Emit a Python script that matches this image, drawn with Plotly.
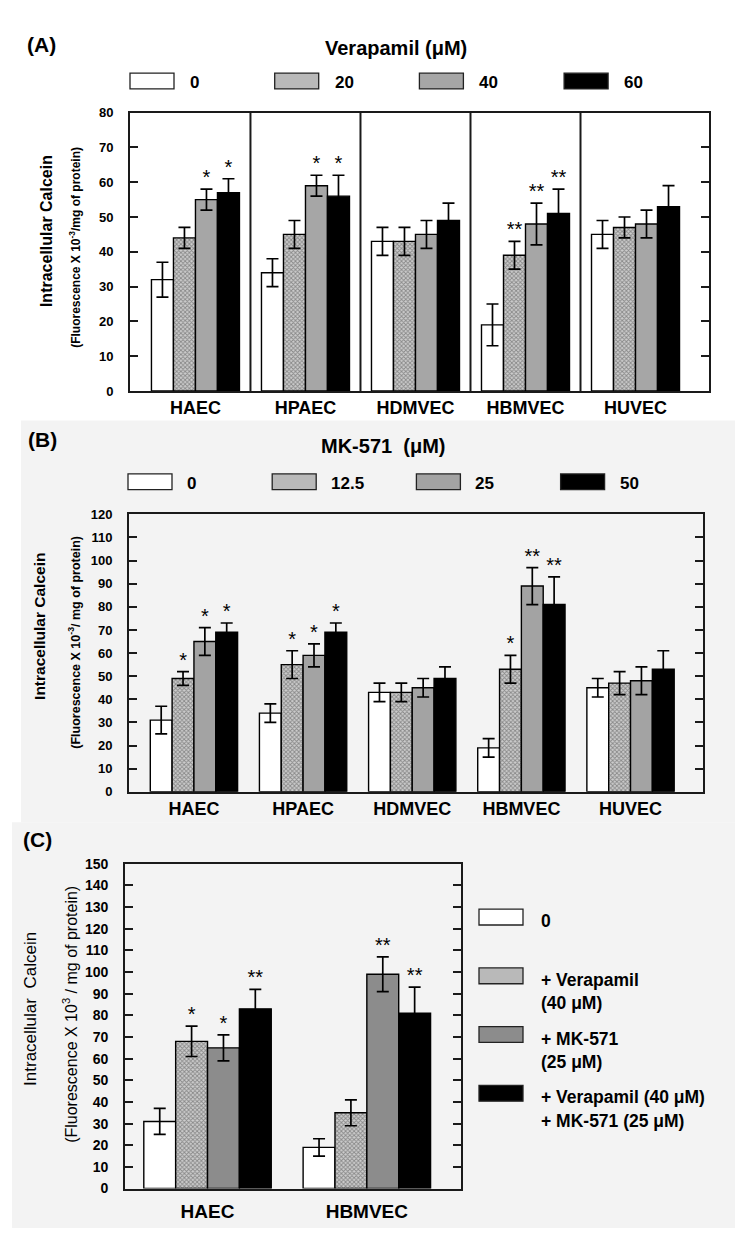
import numpy as np
import plotly.graph_objects as go

# ---- data ----
cells_a = ['HAEC', 'HPAEC', 'HDMVEC', 'HBMVEC', 'HUVEC']
verapamil_doses = ['0', '20', '40', '60']
a_0 = [32, 34, 43, 19, 45]
a_0_err = [5, 4, 4, 6, 4]
a_20 = [44, 45, 43, 39, 47]
a_20_err = [3, 4, 4, 4, 3]
a_40 = [55, 59, 45, 48, 48]
a_40_err = [3, 3, 4, 6, 4]
a_60 = [57, 56, 49, 51, 53]
a_60_err = [4, 6, 5, 7, 6]
a_0_sig = ['', '', '', '', '']
a_20_sig = ['', '', '', '**', '']
a_40_sig = ['*', '*', '', '**', '']
a_60_sig = ['*', '*', '', '**', '']

cells_b = ['HAEC', 'HPAEC', 'HDMVEC', 'HBMVEC', 'HUVEC']
mk571_doses = ['0', '12.5', '25', '50']
b_0 = [31, 34, 43, 19, 45]
b_0_err = [6, 4, 4, 4, 4]
b_12 = [49, 55, 43, 53, 47]
b_12_err = [3, 6, 4, 6, 5]
b_25 = [65, 59, 45, 89, 48]
b_25_err = [6, 5, 4, 8, 6]
b_50 = [69, 69, 49, 81, 53]
b_50_err = [4, 4, 5, 12, 8]
b_0_sig = ['', '', '', '', '']
b_12_sig = ['*', '*', '', '*', '']
b_25_sig = ['*', '*', '', '**', '']
b_50_sig = ['*', '*', '', '**', '']

cells_c = ['HAEC', 'HBMVEC']
combo_names = ['0', '+ Verapamil<br>(40 \u03bcM)', '+ MK-571<br>(25 \u03bcM)',
               '+ Verapamil (40 \u03bcM)<br>+ MK-571 (25 \u03bcM)']
c_0 = [31, 19]
c_0_err = [6, 4]
c_ver = [68, 35]
c_ver_err = [7, 6]
c_mk = [65, 99]
c_mk_err = [6, 8]
c_both = [83, 81]
c_both_err = [9, 12]
c_0_sig = ['', '']
c_ver_sig = ['*', '']
c_mk_sig = ['*', '**']
c_both_sig = ['**', '**']

# ---- styling ----
W, H = 750, 1239
FONT = 'Liberation Sans, Arial, sans-serif'
HATCH = '#cdcdcd'
line_col = '#1a1a1a'
bg_gray = '#f3f3f3'


def px(x):
    return x / W


def py(y):
    return 1 - y / H


def bar_marker(fill):
    if fill == 'hatch':
        return dict(color=HATCH, line=dict(color='black', width=1.4),
                    pattern=dict(shape='x', size=3, solidity=0.5,
                                 fgcolor='#444444', bgcolor=HATCH))
    return dict(color=fill, line=dict(color='black', width=1.4))


def add_panel(fig, xa, ya, cells, values, errs, sigs, fills, star_size=20):
    n = len(cells)
    k = len(values)
    width = 0.8 / k
    for j in range(k):
        fig.add_trace(go.Bar(
            x=np.arange(n), y=values[j],
            xaxis=xa, yaxis=ya,
            marker=bar_marker(fills[j]),
            error_y=dict(type='data', array=errs[j], color='black',
                         thickness=1.7, width=6),
            hoverinfo='skip'))
        # significance stars above the error bars
        offset = (j - (k - 1) / 2) * width
        fig.add_trace(go.Scatter(
            x=np.arange(n) + offset,
            y=np.array(values[j]) + np.array(errs[j]),
            xaxis=xa, yaxis=ya,
            mode='text', text=sigs[j], textposition='top center',
            textfont=dict(family=FONT, size=star_size, color='black'),
            hoverinfo='skip'))


fig = go.Figure()

add_panel(fig, 'x', 'y', cells_a,
          [a_0, a_20, a_40, a_60],
          [a_0_err, a_20_err, a_40_err, a_60_err],
          [a_0_sig, a_20_sig, a_40_sig, a_60_sig],
          ['white', 'hatch', '#a6a6a6', 'black'])
add_panel(fig, 'x2', 'y2', cells_b,
          [b_0, b_12, b_25, b_50],
          [b_0_err, b_12_err, b_25_err, b_50_err],
          [b_0_sig, b_12_sig, b_25_sig, b_50_sig],
          ['white', 'hatch', '#a3a3a3', 'black'])
add_panel(fig, 'x3', 'y3', cells_c,
          [c_0, c_ver, c_mk, c_both],
          [c_0_err, c_ver_err, c_mk_err, c_both_err],
          [c_0_sig, c_ver_sig, c_mk_sig, c_both_sig],
          ['white', 'hatch', '#8c8c8c', 'black'])


def xaxis_cfg(domain, rng, cells, size, anchor, standoff=0):
    return dict(domain=domain, range=rng, tickvals=list(range(len(cells))),
                ticktext=cells, showline=True, mirror=True, linewidth=1.7,
                linecolor=line_col, ticks='', showgrid=False, zeroline=False,
                ticklabelstandoff=standoff, anchor=anchor,
                tickfont=dict(family=FONT, size=size, color='black', weight='bold'))


def yaxis_cfg(domain, rng, size, anchor):
    return dict(domain=domain, range=rng, dtick=10, ticks='inside', ticklen=8,
                tickwidth=1.5, tickcolor=line_col, showline=True, mirror='ticks',
                linewidth=1.7, linecolor=line_col, showgrid=False, zeroline=False,
                ticklabelstandoff=12, anchor=anchor,
                tickfont=dict(family=FONT, size=size, color='black', weight='bold'))


fig.update_layout(
    width=W, height=H,
    margin=dict(l=0, r=0, t=0, b=0),
    paper_bgcolor='white',
    plot_bgcolor='rgba(0,0,0,0)',
    showlegend=False,
    barmode='group', bargap=0.2, bargroupgap=0,
    font=dict(family=FONT, color='black'),
    xaxis=xaxis_cfg([px(130), px(709)], [-0.595, 4.668], cells_a, 18, 'y'),
    xaxis2=xaxis_cfg([px(129), px(703)], [-0.595, 4.664], cells_b, 18, 'y2'),
    xaxis3=xaxis_cfg([px(125), px(461)], [-0.518, 1.591], cells_c, 19, 'y3', 5),
    yaxis=yaxis_cfg([py(388), py(106)], [0, 80], 13, 'x'),
    yaxis2=yaxis_cfg([py(794), py(513)], [0, 120], 13, 'x2'),
    yaxis3=yaxis_cfg([py(1196), py(867)], [0, 150], 14, 'x3'),
)

shapes = []
# light gray backgrounds behind panels B and C
shapes.append(dict(type='rect', xref='paper', yref='paper', layer='below',
                   x0=px(21), x1=px(735), y0=py(825), y1=py(418),
                   fillcolor=bg_gray, line=dict(width=0)))
shapes.append(dict(type='rect', xref='paper', yref='paper', layer='below',
                   x0=px(12), x1=px(735), y0=py(1236), y1=py(825),
                   fillcolor=bg_gray, line=dict(width=0)))
# dividers between cell types in panel A
for i in range(len(cells_a) - 1):
    shapes.append(dict(type='line', xref='x', yref='y domain',
                       x0=i + 0.5, x1=i + 0.5, y0=0, y1=1,
                       line=dict(color=line_col, width=2)))

annotations = []


def text(x, y, s, size, bold=True, xanchor='center', angle=0):
    annotations.append(dict(
        x=px(x), y=py(y), xref='paper', yref='paper', text=s, showarrow=False,
        xanchor=xanchor, yanchor='middle', textangle=angle,
        font=dict(family=FONT, size=size, color='black',
                  weight='bold' if bold else 'normal')))


def legend_box(x0, y0, fill):
    color = '#b9b9b9' if fill == 'hatch' else fill
    shapes.append(dict(type='rect', xref='paper', yref='paper',
                       x0=px(x0), x1=px(x0 + 44), y0=py(y0 + 16), y1=py(y0),
                       fillcolor=color, line=dict(color='#222', width=1.3)))


# panel A header + legend
text(25, 37, '(A)', 21, xanchor='left')
text(396, 41, 'Verapamil (\u03bcM)', 20)
a_fills = ['white', 'hatch', '#a6a6a6', 'black']
for j, lab in enumerate(verapamil_doses):
    bx = 130 + j * 144.7
    legend_box(bx, 66, a_fills[j])
    text(bx + 58, 75, lab, 17, xanchor='left')

# panel B header + legend
text(26, 437, '(B)', 21, xanchor='left')
text(383, 444, 'MK-571  (\u03bcM)', 20)
b_fills = ['white', 'hatch', '#a3a3a3', 'black']
for j, lab in enumerate(mk571_doses):
    bx = 128 + j * 144.2
    legend_box(bx, 472, b_fills[j])
    text(bx + 57, 482, lab, 17, xanchor='left')

# panel C header + legend
text(21, 842, '(C)', 21, xanchor='left')
c_fills = ['white', 'hatch', '#8c8c8c', 'black']
for j, lab in enumerate(combo_names):
    by = 913 + j * 59.5
    legend_box(479, by, c_fills[j])
    for li, part in enumerate(lab.split('<br>')):
        text(539, by + 12 + li * 24, part, 17.5, xanchor='left')

# y-axis titles
text(46, 226, 'Intracellular Calcein', 16, angle=-90)
text(75, 243, '(Fluorescence X 10<sup>-3</sup>/mg of protein)', 12, angle=-90)
text(40, 627, 'Intracellular Calcein', 15.5, angle=-90)
text(74, 643, '(Fluorescence X 10<sup>-3</sup>/ mg of protein)', 12.5, angle=-90)
text(31, 1014, 'Intracellular  Calcein', 17, bold=False, angle=-90)
text(70, 1020, '(Fluorescence X 10<sup>3</sup> / mg of protein)', 16, bold=False, angle=-90)

fig.update_layout(shapes=shapes, annotations=annotations)

fig.write_html("out.html", config={'displayModeBar': False},
               post_script="document.body.style.margin='0px';")
